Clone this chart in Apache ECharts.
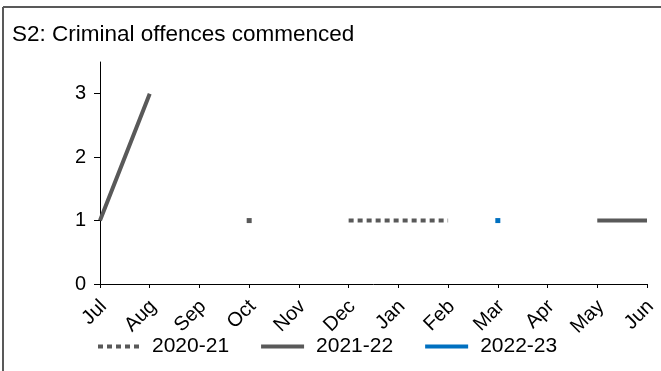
<!DOCTYPE html>
<html><head><meta charset="utf-8">
<script src="https://cdn.jsdelivr.net/npm/echarts@6/dist/echarts.min.js"></script>
<style>html,body{margin:0;padding:0;background:#fff}#c{width:661px;height:371px}</style>
</head><body><div id="c"></div>
<script>
const months = ['Jul','Aug','Sep','Oct','Nov','Dec','Jan','Feb','Mar','Apr','May','Jun'];
const s2020_21 = [null,null,null,1,null,1,1,1,null,null,null,null];
const s2021_22 = [1,3,null,null,null,null,null,null,null,null,1,1];
const s2022_23 = [null,null,null,null,null,null,null,null,1,null,null,null];
const yTicks = [0,1,2,3];
const title = 'S2: Criminal offences commenced';

const grey = '#595959', blue = '#0070C0';
const FONT = 'Arial, "Liberation Sans", sans-serif';
function isolatedSize(arr, size){
  return function(v, p){
    const i = p.dataIndex;
    const prev = i>0 ? arr[i-1] : null, next = i<arr.length-1 ? arr[i+1] : null;
    return (prev==null && next==null) ? size : 0;
  };
}
function mk(name, data, color, type){
  return {name, type:'line', data, connectNulls:false, symbol:'rect',
    symbolSize: isolatedSize(data,5), showSymbol:true,
    itemStyle:{color}, lineStyle:{color, width:4, type, cap:'butt'},
    emphasis:{disabled:true}, animation:false};
}
const chart = echarts.init(document.getElementById('c'));
chart.setOption({
  animation:false,
  title:{text:title, left:7, top:18, textStyle:{fontFamily:FONT, fontSize:22.5, fontWeight:'normal', color:'#000'}},
  graphic:[
    {type:'line', shape:{x1:3,y1:7,x2:661,y2:7}, style:{stroke:grey, lineWidth:2}},
    {type:'line', shape:{x1:3,y1:7,x2:3,y2:371}, style:{stroke:grey, lineWidth:2}}
  ],
  grid:{left:100, right:14, top:62, bottom:87, outerBoundsMode:'none'},
  xAxis:{type:'category', data:months, boundaryGap:false,
    axisLine:{lineStyle:{color:'#000', width:1}},
    axisTick:{show:true, length:4, lineStyle:{color:'#000'}},
    axisLabel:{rotate:45, color:'#000', fontFamily:FONT, fontSize:20, margin:23, padding:[0,-5,0,0], interval:0}},
  yAxis:{type:'value', min:0, max:3.5,
    axisLine:{show:true, lineStyle:{color:'#000', width:1}},
    axisTick:{show:true, length:6, customValues:yTicks, lineStyle:{color:'#000'}},
    axisLabel:{customValues:yTicks, color:'#000', fontFamily:FONT, fontSize:20, margin:14},
    splitLine:{show:false}},
  legend:{top:336, left:98, itemWidth:43, itemHeight:4, itemGap:32, padding:0,
    textStyle:{fontFamily:FONT, fontSize:21, color:'#000', padding:[0,0,0,7]},
    data:[
      {name:'2020-21', icon:'path://M0,0h5v4h-5z M9,0h5v4h-5z M18,0h5v4h-5z M27,0h5v4h-5z M36,0h5v4h-5z', itemStyle:{color:grey}},
      {name:'2021-22', icon:'rect', itemStyle:{color:grey}},
      {name:'2022-23', icon:'rect', itemStyle:{color:blue}}
    ]},
  series:[
    mk('2020-21', s2020_21, grey, [5,4]),
    mk('2021-22', s2021_22, grey, 'solid'),
    mk('2022-23', s2022_23, blue, 'solid')
  ]
});
</script></body></html>
